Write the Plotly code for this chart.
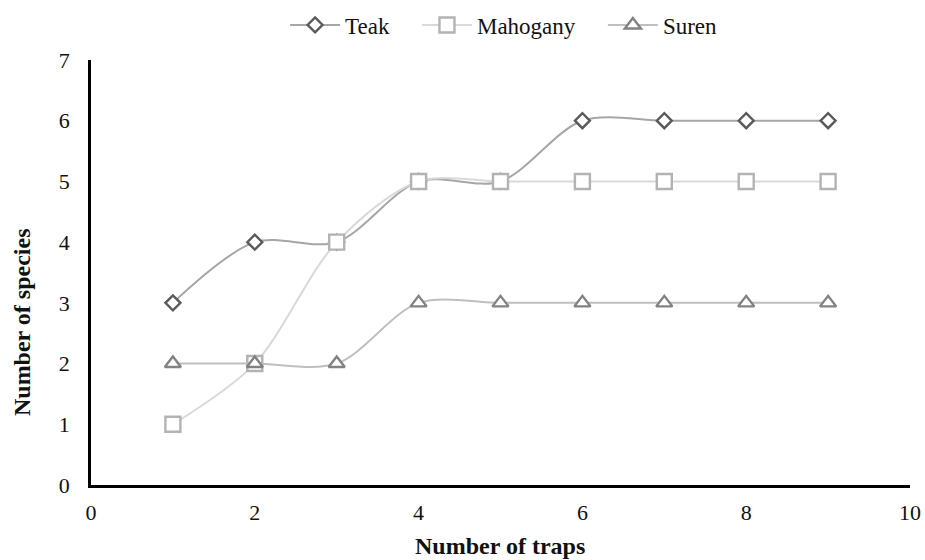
import plotly.graph_objects as go

traps = [1, 2, 3, 4, 5, 6, 7, 8, 9]
teak = [3, 4, 4, 5, 5, 6, 6, 6, 6]
mahogany = [1, 2, 4, 5, 5, 5, 5, 5, 5]
suren = [2, 2, 2, 3, 3, 3, 3, 3, 3]
x_ticks = [0, 2, 4, 6, 8, 10]
y_ticks = [0, 1, 2, 3, 4, 5, 6, 7]

font_family = "Liberation Serif, Times New Roman, serif"

fig = go.Figure()

series = [
    ("Teak", teak, "#a6a6a6", "#5a5a5a", "diamond", 11.5, "legend", 0.237),
    ("Mahogany", mahogany, "#d9d9d9", "#b3b3b3", "square", 15, "legend2", 0.398),
    ("Suren", suren, "#bfbfbf", "#828282", "triangle-up", 14, "legend3", 0.625),
]

legend_cfg = {}
for name, ys, lc, mc, sym, sz, lg, lx in series:
    fig.add_trace(go.Scatter(
        x=traps, y=ys, name=name, mode="lines+markers", legend=lg,
        line=dict(color=lc, width=2, shape="spline", smoothing=0.9),
        marker=dict(symbol=sym, size=sz, color="white", line=dict(color=mc, width=2.4)),
    ))
    legend_cfg[lg] = dict(orientation="h", x=lx, xanchor="left", y=1.0824, yanchor="middle",
                          font=dict(size=23, family=font_family, color="#111111"),
                          bgcolor="rgba(0,0,0,0)", itemwidth=50)

fig.update_layout(
    width=925, height=560,
    margin=dict(l=91, r=15, t=60, b=75, autoexpand=False),
    paper_bgcolor="white", plot_bgcolor="white",
    font=dict(family=font_family, size=22, color="#111111"),
    showlegend=True,
    xaxis=dict(range=[0, 10], tickvals=x_ticks, showgrid=False,
               zeroline=False, showline=True, linecolor="black", linewidth=2.5,
               ticks="", ticklabelstandoff=6, tickfont=dict(size=22)),
    yaxis=dict(range=[0, 7], tickvals=y_ticks, showgrid=False,
               zeroline=False, showline=True, linecolor="black", linewidth=2.5,
               ticks="", ticklabelstandoff=14, tickfont=dict(size=22)),
    annotations=[
        dict(text="<b>Number of traps</b>", xref="paper", yref="paper",
             x=0.4994, y=-0.1435, xanchor="center", yanchor="middle",
             showarrow=False, font=dict(size=24)),
        dict(text="<b>Number of species</b>", xref="paper", yref="paper",
             x=-0.0842, y=0.3835, xanchor="center", yanchor="middle", textangle=-90,
             showarrow=False, font=dict(size=24)),
    ],
    **legend_cfg,
)

fig.write_html("out.html")
